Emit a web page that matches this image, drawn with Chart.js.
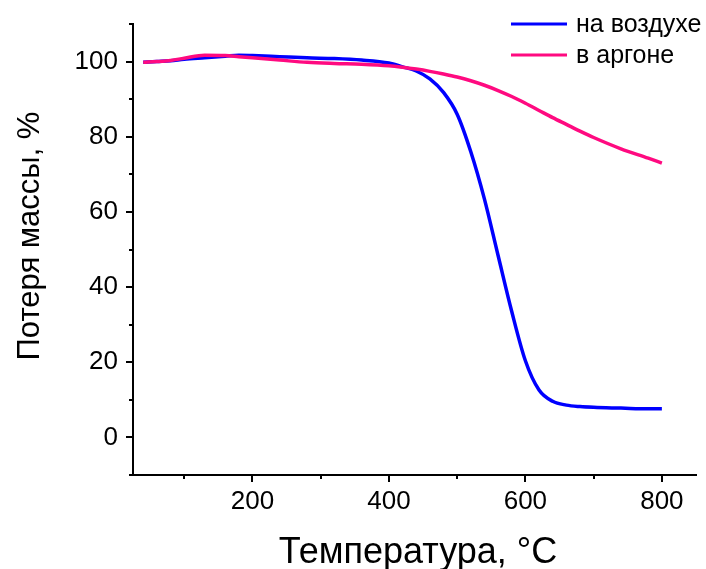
<!DOCTYPE html>
<html>
<head>
<meta charset="utf-8">
<script src="https://cdn.jsdelivr.net/npm/chart.js@4"></script>
<style>
  html, body { margin: 0; padding: 0; background: #fff; }
  #wrap { width: 706px; height: 569px; }
</style>
</head>
<body>
<div id="wrap"><canvas id="tgaChart" width="706" height="569"></canvas></div>
<script>
// temperature, °C
const temps = [40, 60, 80, 100, 130, 160, 180, 200, 240, 280, 320, 360, 400, 420, 440, 460, 480, 500, 520, 540, 560, 580, 600, 620, 640, 660, 680, 700, 740, 780, 800];
// mass, % (air)
const airMass = [99.8, 100.0, 100.2, 100.6, 101.0, 101.4, 101.7, 101.6, 101.3, 101.0, 100.8, 100.4, 99.6, 98.6, 97.5, 95.4, 91.8, 86.0, 76.0, 63.4, 48.4, 33.5, 20.4, 12.6, 9.6, 8.6, 8.2, 8.0, 7.8, 7.6, 7.6];
// mass, % (argon)
const argonMass = [99.8, 100.0, 100.3, 100.9, 101.7, 101.6, 101.3, 101.0, 100.4, 99.8, 99.5, 99.3, 98.9, 98.5, 98.0, 97.4, 96.7, 95.9, 94.9, 93.7, 92.3, 90.7, 88.9, 87.0, 85.1, 83.3, 81.5, 79.8, 76.8, 74.3, 73.0];

const xTicks = [200, 400, 600, 800];
const xMinor = [100, 300, 500, 700];
const yTicks = [0, 20, 40, 60, 80, 100];
const yMinor = [-10, 10, 30, 50, 70, 90, 110];

const seriesNames = ['на воздухе', 'в аргоне'];
const xTitle = 'Температура, °C';
const yTitle = 'Потеря массы, %';

const FONT = '"Liberation Sans", Arial, sans-serif';
const BLUE = '#0000ff';
const PINK = '#ff0a80';

const toPoints = vals => temps.map((t, i) => ({ x: t, y: vals[i] }));

// minor/major ticks, axis titles and legend
const decor = {
  id: 'decor',
  afterDraw(chart) {
    const ctx = chart.ctx;
    const xs = chart.scales.x, ys = chart.scales.y;
    const area = chart.chartArea;
    ctx.save();
    ctx.strokeStyle = '#000';
    ctx.lineWidth = 2;
    ctx.beginPath();
    xTicks.concat(xMinor).forEach(v => {
      const px = Math.round(xs.getPixelForValue(v));
      ctx.moveTo(px, area.bottom);
      ctx.lineTo(px, area.bottom + (xTicks.includes(v) ? 7 : 4));
    });
    yTicks.concat(yMinor).forEach(v => {
      const py = Math.round(ys.getPixelForValue(v));
      ctx.moveTo(area.left, py);
      ctx.lineTo(area.left - (yTicks.includes(v) ? 7 : 4), py);
    });
    ctx.stroke();

    ctx.fillStyle = '#000';
    ctx.font = '36px ' + FONT;
    ctx.textAlign = 'center';
    ctx.textBaseline = 'alphabetic';
    ctx.fillText(xTitle, 418, 563);

    ctx.save();
    ctx.translate(39, 236);
    ctx.rotate(-Math.PI / 2);
    ctx.font = '31px ' + FONT;
    ctx.fillText(yTitle, 0, 0);
    ctx.restore();

    // legend
    const colors = [BLUE, PINK];
    ctx.font = '25px ' + FONT;
    ctx.textAlign = 'left';
    ctx.textBaseline = 'middle';
    seriesNames.forEach((name, i) => {
      const y = 24 + i * 31;
      ctx.strokeStyle = colors[i];
      ctx.lineWidth = 3;
      ctx.beginPath();
      ctx.moveTo(511, y);
      ctx.lineTo(567, y);
      ctx.stroke();
      ctx.fillStyle = '#000';
      ctx.fillText(name, 576, y + 1);
    });
    ctx.restore();
  }
};

new Chart(document.getElementById('tgaChart'), {
  type: 'line',
  data: {
    datasets: [
      {
        label: seriesNames[0],
        data: toPoints(airMass),
        borderColor: BLUE,
        borderWidth: 3.5,
        pointRadius: 0,
        cubicInterpolationMode: 'monotone',
        order: 1
      },
      {
        label: seriesNames[1],
        data: toPoints(argonMass),
        borderColor: PINK,
        borderWidth: 3.5,
        pointRadius: 0,
        cubicInterpolationMode: 'monotone',
        order: 0
      }
    ]
  },
  options: {
    responsive: false,
    animation: false,
    layout: { padding: { left: 0, top: 24, right: 10, bottom: 0 } },
    plugins: { legend: { display: false }, tooltip: { enabled: false } },
    scales: {
      x: {
        type: 'linear',
        min: 25,
        max: 850,
        grid: { display: false },
        border: { display: true, color: '#000', width: 2 },
        afterBuildTicks: s => { s.ticks = xTicks.map(v => ({ value: v })); },
        afterFit: s => { s.height = 94; s.paddingLeft = 0; s.paddingRight = 0; },
        ticks: { color: '#000', font: { family: FONT, size: 26 }, padding: 3, maxRotation: 0 }
      },
      y: {
        min: -10,
        max: 110,
        grid: { display: false },
        border: { display: true, color: '#000', width: 2 },
        afterBuildTicks: s => { s.ticks = yTicks.map(v => ({ value: v })); },
        afterFit: s => { s.width = 133; s.paddingTop = 0; s.paddingBottom = 0; },
        ticks: { color: '#000', font: { family: FONT, size: 26 }, padding: 7 }
      }
    }
  },
  plugins: [decor]
});
</script>
</body>
</html>
